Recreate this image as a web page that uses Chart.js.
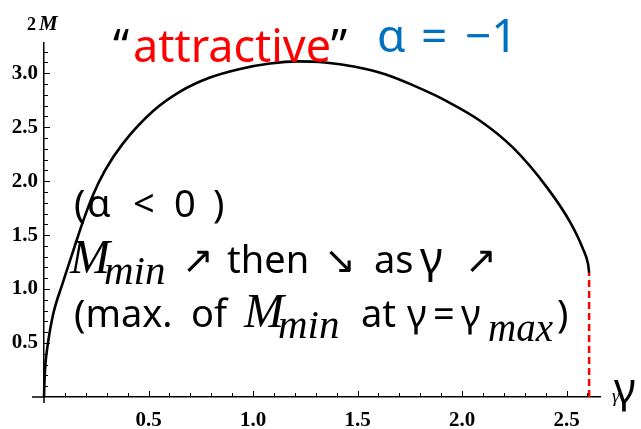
<!DOCTYPE html>
<html>
<head>
<meta charset="utf-8">
<script src="https://cdn.jsdelivr.net/npm/chart.js@4.4.1/dist/chart.umd.min.js"></script>
<style>
    html, body { margin: 0; padding: 0; background: #ffffff; }
    #wrap { width: 641px; height: 429px; }
</style>
</head>
<body>
<div id="wrap"><canvas id="mminChart" width="641" height="429"></canvas></div>
<script>
// Courbe M_min(gamma) pour alpha = -1
const gammaValues = [0, 0.0024, 0.0072, 0.019, 0.043, 0.091, 0.139, 0.187, 0.234, 0.292, 0.378, 0.522, 0.651, 0.794, 0.938, 1.081, 1.211, 1.344, 1.488, 1.632, 1.775, 1.928, 2.086, 2.244, 2.407, 2.517, 2.579, 2.603, 2.608];
const massValues  = [0, 0.157, 0.315, 0.50, 0.76, 1.065, 1.35, 1.63, 1.87, 2.10, 2.35, 2.65, 2.83, 2.96, 3.04, 3.09, 3.11, 3.10, 3.06, 2.99, 2.88, 2.74, 2.56, 2.31, 1.94, 1.62, 1.37, 1.23, 1.15];

// Borne gamma_max (ligne pointillee rouge)
const gammaMax = 2.608;
const massAtGammaMax = 1.15;

// Graduations
const xTickLabels = [0.5, 1.0, 1.5, 2.0, 2.5];
const yTickLabels = [0.5, 1.0, 1.5, 2.0, 2.5, 3.0];

const TICK_FONT = { family: '"Liberation Serif", serif', size: 21, weight: 'bold' };
const SLIDE_FONT = '"Noto Sans", "Open Sans", sans-serif';
const MATH_FONT = '"Liberation Serif", "DejaVu Serif", serif';

// Petits traits interieurs (0.1) et grands traits (0.5)
const innerTicks = {
    id: 'innerTicks',
    afterDraw(chart) {
        const ctx = chart.ctx;
        const xs = chart.scales.x;
        const ys = chart.scales.y;
        const area = chart.chartArea;
        ctx.save();
        ctx.strokeStyle = '#000000';
        ctx.lineWidth = 1;

        for (let i = 1; i <= 26; i++) {
            const px = Math.round(xs.getPixelForValue(i / 10)) + 0.5;
            const len = i % 5 === 0 ? 6 : 4;
            ctx.beginPath();
            ctx.moveTo(px, area.bottom);
            ctx.lineTo(px, area.bottom - len);
            ctx.stroke();
        }
        for (let i = 1; i <= 32; i++) {
            const py = Math.round(ys.getPixelForValue(i / 10)) + 0.5;
            const len = i % 5 === 0 ? 6 : 4;
            ctx.beginPath();
            ctx.moveTo(area.left, py);
            ctx.lineTo(area.left + len, py);
            ctx.stroke();
        }

        // prolongement des axes au-dela de l'origine
        ctx.lineWidth = 1.5;
        ctx.beginPath();
        ctx.moveTo(area.left - 12, area.bottom);
        ctx.lineTo(area.left, area.bottom);
        ctx.moveTo(area.left, area.bottom);
        ctx.lineTo(area.left, area.bottom + 6);
        ctx.stroke();
        ctx.restore();
    }
};

// Titres et annotations du transparent
const slideText = {
    id: 'slideText',
    afterDraw(chart) {
        const ctx = chart.ctx;
        ctx.save();
        ctx.textBaseline = 'alphabetic';
        ctx.textAlign = 'left';

        // etiquette de l'axe vertical : 2 M
        ctx.fillStyle = '#000000';
        ctx.font = 'bold 18px ' + MATH_FONT;
        ctx.fillText('2', 27, 30);
        ctx.font = 'italic bold 21px ' + MATH_FONT;
        ctx.fillText('M', 39, 30);

        // etiquette de l'axe horizontal
        ctx.font = 'italic 19px ' + MATH_FONT;
        ctx.fillText('γ', 612, 402);
        ctx.font = '42px ' + SLIDE_FONT;
        ctx.fillText('γ', 614, 403);

        // titre
        ctx.font = '45px ' + SLIDE_FONT;
        ctx.fillText('“', 113, 62);
        ctx.fillText('”', 331, 62);
        ctx.fillStyle = '#ff0000';
        ctx.fillText('attractive', 133, 62, 198);
        ctx.fillStyle = '#0070c0';
        ctx.font = '46px ' + SLIDE_FONT;
        ctx.fillText('α', 377, 52);
        ctx.fillText('=', 421, 52);
        ctx.fillText('−1', 465, 52);

        // bloc de texte
        ctx.fillStyle = '#000000';
        ctx.font = '38px ' + SLIDE_FONT;
        ctx.fillText('(', 74, 217);
        ctx.fillText('α', 87, 217);
        ctx.fillText('<', 133, 217);
        ctx.fillText('0', 174, 217);
        ctx.fillText(')', 213, 217);

        const drawMmin = (x, y) => {
            ctx.font = 'italic 48px ' + MATH_FONT;
            ctx.fillText('M', x, y, 52);
            ctx.font = 'italic 41px ' + MATH_FONT;
            ctx.fillText('min', x + 34, y + 11, 64);
        };

        drawMmin(70, 273);
        ctx.font = '38px ' + SLIDE_FONT;
        ctx.fillText('↗', 182, 273);
        ctx.fillText('then', 227, 273);
        ctx.fillText('↘', 324, 273);
        ctx.fillText('as', 374, 273);
        ctx.font = '44px ' + SLIDE_FONT;
        ctx.fillText('γ', 420, 273);
        ctx.font = '38px ' + SLIDE_FONT;
        ctx.fillText('↗', 465, 273);

        ctx.fillText('(max.', 74, 327);
        ctx.fillText('of', 191, 327);
        drawMmin(244, 327);
        ctx.font = '38px ' + SLIDE_FONT;
        ctx.fillText('at', 361, 327);
        ctx.fillText('γ', 407, 327);
        ctx.fillText('=', 433, 327);
        ctx.fillText('γ', 461, 327);
        ctx.font = 'italic 39px ' + MATH_FONT;
        ctx.fillText('max', 488, 341, 66);
        ctx.font = '38px ' + SLIDE_FONT;
        ctx.fillText(')', 557, 327);
        ctx.restore();
    }
};

function initChart() {
    const ctx = document.getElementById('mminChart').getContext('2d');
    const curve = gammaValues.map((g, i) => ({ x: g, y: massValues[i] }));

    return new Chart(ctx, {
        type: 'line',
        data: {
            datasets: [
                {
                    data: curve,
                    borderColor: '#000000',
                    borderWidth: 2.6,
                    pointRadius: 0,
                    cubicInterpolationMode: 'monotone',
                    fill: false,
                    clip: false
                },
                {
                    data: [{ x: gammaMax, y: 0 }, { x: gammaMax, y: massAtGammaMax }],
                    borderColor: '#ff0000',
                    borderWidth: 2.5,
                    borderDash: [7, 4],
                    pointRadius: 0,
                    tension: 0,
                    fill: false,
                    clip: false
                }
            ]
        },
        options: {
            responsive: false,
            animation: false,
            devicePixelRatio: 1,
            layout: { padding: { left: 0, right: 41, top: 43, bottom: 0 } },
            plugins: {
                legend: { display: false },
                tooltip: { enabled: false }
            },
            scales: {
                x: {
                    type: 'linear',
                    min: 0,
                    max: 2.66,
                    grid: { display: false, drawTicks: false },
                    border: { display: true, color: '#000000', width: 1.5 },
                    afterBuildTicks: (scale) => { scale.ticks = xTickLabels.map(v => ({ value: v })); },
                    afterFit: (scale) => { scale.height = 32; },
                    ticks: {
                        color: '#000000',
                        font: TICK_FONT,
                        padding: 11,
                        maxRotation: 0,
                        autoSkip: false,
                        callback: (v) => Number(v).toFixed(1)
                    }
                },
                y: {
                    type: 'linear',
                    min: 0,
                    max: 3.28,
                    grid: { display: false, drawTicks: false },
                    border: { display: true, color: '#000000', width: 1.5 },
                    afterBuildTicks: (scale) => { scale.ticks = yTickLabels.map(v => ({ value: v })); },
                    afterFit: (scale) => { scale.width = 44; },
                    ticks: {
                        color: '#000000',
                        font: TICK_FONT,
                        padding: 6,
                        autoSkip: false,
                        callback: (v) => Number(v).toFixed(1)
                    }
                }
            }
        },
        plugins: [innerTicks, slideText]
    });
}

document.addEventListener('DOMContentLoaded', initChart);
</script>
</body>
</html>
